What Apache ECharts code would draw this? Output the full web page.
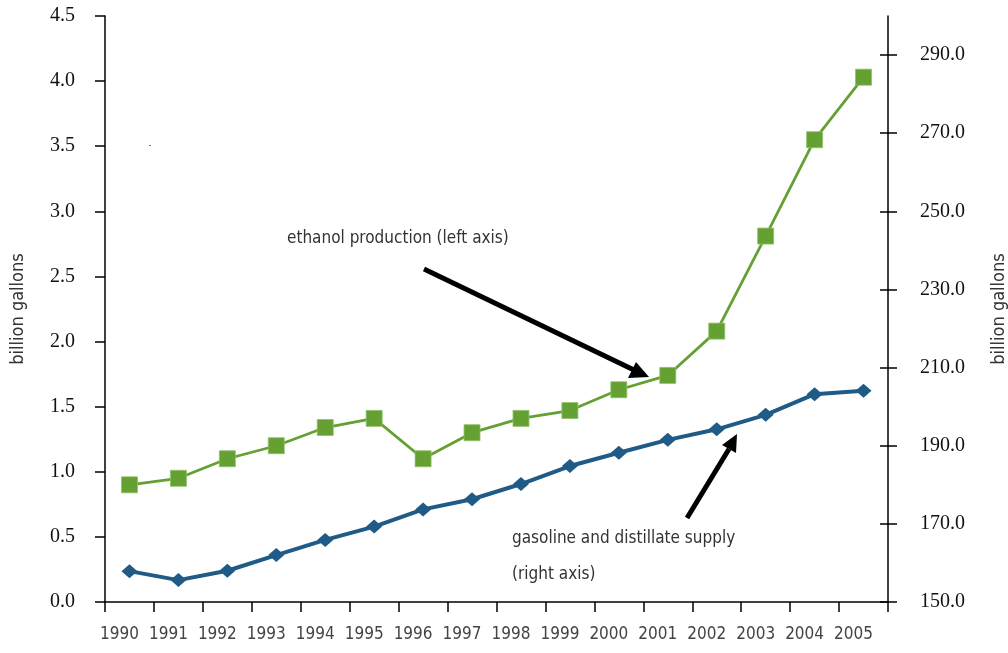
<!DOCTYPE html>
<html>
<head>
<meta charset="utf-8">
<script src="https://cdn.jsdelivr.net/npm/echarts@6/dist/echarts.min.js"></script>
<style>html,body{margin:0;padding:0;background:#fff;overflow:hidden}#c{width:1008px;height:653px}</style>
</head>
<body>
<div id="c"></div>
<script>
var years = ['1990','1991','1992','1993','1994','1995','1996','1997','1998','1999','2000','2001','2002','2003','2004','2005'];
var ethanol = [0.90,0.95,1.10,1.20,1.34,1.41,1.10,1.30,1.41,1.47,1.63,1.74,2.08,2.81,3.55,4.03];
var gasoline = [157.9,155.6,158.0,162.0,165.9,169.3,173.7,176.3,180.2,184.8,188.2,191.5,194.2,197.9,203.2,204.1];
var leftTicks = [0.0,0.5,1.0,1.5,2.0,2.5,3.0,3.5,4.0,4.5];
var rightTicks = [150,170,190,210,230,250,270,290];

var condensed = '"DejaVu Sans Condensed", "Liberation Sans Narrow", "Noto Sans", sans-serif';
var serif = '"Liberation Serif", "DejaVu Serif", serif';

var chart = echarts.init(document.getElementById('c'));
chart.setOption({
  animation: false,
  backgroundColor: '#fff',
  grid: {left: 105, right: 120, top: 16, bottom: 51, containLabel: false, outerBoundsMode: 'none'},
  xAxis: {
    type: 'category', data: years, boundaryGap: true,
    axisLine: {lineStyle: {color: '#000', width: 1.5}},
    axisTick: {show: true, length: 10, lineStyle: {color: '#000', width: 1.5}},
    axisLabel: {interval: 0, color: '#444', fontFamily: condensed, fontSize: 17, margin: 24, padding: [0, 20, 0, 0]},
    splitLine: {show: false}
  },
  yAxis: [
    {
      type: 'value', position: 'left', min: 0, max: 4.5, interval: 0.5,
      name: 'billion gallons', nameLocation: 'middle', nameGap: 78, nameRotate: 90,
      nameTextStyle: {color: '#333', fontFamily: condensed, fontSize: 18},
      axisLine: {show: true, lineStyle: {color: '#000', width: 1.5}},
      axisTick: {show: true, length: 10, customValues: leftTicks, lineStyle: {color: '#000', width: 1.5}},
      axisLabel: {color: '#111', fontFamily: serif, fontSize: 20, margin: 30, customValues: leftTicks,
        formatter: function(v){return v.toFixed(1);}},
      splitLine: {show: false}
    },
    {
      type: 'value', position: 'right', offset: 0, min: 150, max: 300, interval: 20,
      name: 'billion gallons', nameLocation: 'middle', nameGap: 102, nameRotate: 90,
      nameTextStyle: {color: '#333', fontFamily: condensed, fontSize: 18},
      axisLine: {show: true, lineStyle: {color: '#000', width: 1.5}},
      axisTick: {show: true, length: 9, customValues: rightTicks, lineStyle: {color: '#000', width: 1.5}},
      axisLabel: {color: '#111', fontFamily: serif, fontSize: 20, margin: 32, customValues: rightTicks,
        formatter: function(v){return v.toFixed(1);}},
      splitLine: {show: false}
    },
    {
      type: 'value', position: 'right', offset: 0, min: 150, max: 300, interval: 20,
      axisLine: {show: false},
      axisTick: {show: true, inside: true, length: 8, customValues: rightTicks, lineStyle: {color: '#000', width: 1.5}},
      axisLabel: {show: false},
      splitLine: {show: false}
    }
  ],
  series: [
    {
      name: 'ethanol production', type: 'line', yAxisIndex: 0, data: ethanol,
      symbol: 'rect', symbolSize: 16,
      lineStyle: {color: '#65a032', width: 2.8},
      itemStyle: {color: '#65a032', borderColor: '#8fc06a', borderWidth: 0.8},
      z: 3
    },
    {
      name: 'gasoline and distillate supply', type: 'line', yAxisIndex: 1, data: gasoline,
      symbol: 'diamond', symbolSize: [16, 14],
      lineStyle: {color: '#1f5b86', width: 4},
      itemStyle: {color: '#1f5b86'},
      z: 4
    }
  ],
  graphic: [
    {type: 'text', left: 287, top: 230, style: {text: 'ethanol production (left axis)', fill: '#333', font: '17px ' + condensed}},
    {type: 'text', left: 512, top: 530, style: {text: 'gasoline and distillate supply', fill: '#333', font: '17px ' + condensed}},
    {type: 'text', left: 512, top: 566, style: {text: '(right axis)', fill: '#333', font: '17px ' + condensed}},
    {type: 'line', shape: {x1: 424, y1: 269, x2: 634, y2: 370}, style: {stroke: '#000', lineWidth: 5}},
    {type: 'polygon', shape: {points: [[649, 377], [628, 378], [636, 362]]}, style: {fill: '#000'}},
    {type: 'line', shape: {x1: 687, y1: 518, x2: 729, y2: 449}, style: {stroke: '#000', lineWidth: 5}},
    {type: 'polygon', shape: {points: [[737, 434], [736, 453], [722, 445]]}, style: {fill: '#000'}},
    {type: 'rect', shape: {x: 149, y: 145, width: 2, height: 1}, style: {fill: '#777'}}
  ]
});
</script>
</body>
</html>
